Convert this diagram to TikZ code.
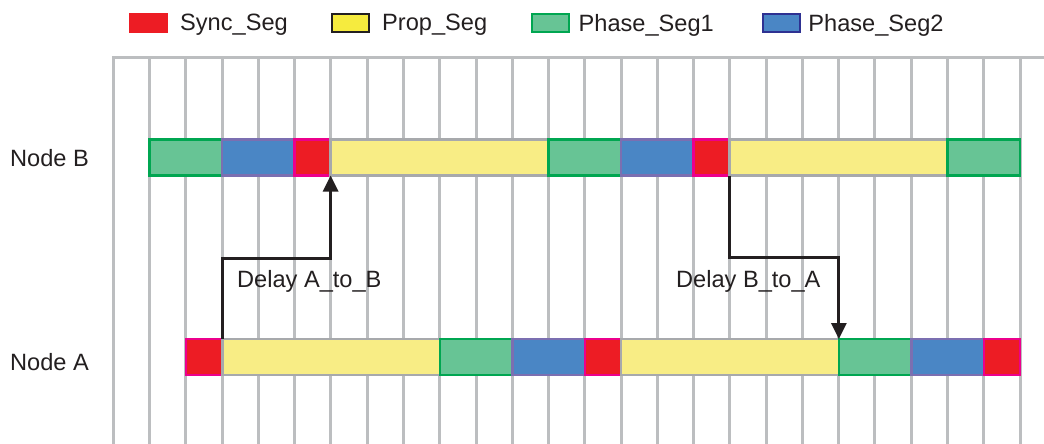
\documentclass[tikz,border=0pt]{standalone}
\usepackage{fontspec}
\setmainfont{Liberation Sans}
\usetikzlibrary{arrows.meta, positioning}
\definecolor{SyncRed}{HTML}{ED1C24}
\definecolor{SyncEdge}{HTML}{EC008C}
\definecolor{PropYellow}{HTML}{F8ED85}
\definecolor{PropKey}{HTML}{F6EB3E}
\definecolor{PropEdge}{HTML}{A7A9AC}
\definecolor{PhaseGreen}{HTML}{67C495}
\definecolor{PhaseEdge}{HTML}{00A651}
\definecolor{PhaseBlue}{HTML}{4A86C5}
\definecolor{PhaseBlueEdge}{HTML}{7B6FB1}
\definecolor{KeyBlueEdge}{HTML}{2E3192}
\definecolor{GridGray}{HTML}{BCBEC0}
\definecolor{InkBlack}{HTML}{231F20}

\begin{document}
\begin{tikzpicture}[x=1pt, y=-1pt, >={Triangle[width=15pt, length=16pt]},
  every node/.style={font=\fontsize{23.6}{28}\selectfont, text=InkBlack},
  seg/.style={draw, line width=2.5pt, minimum height=36pt, inner sep=0pt, outer sep=0pt},
  cells/.style={minimum width=#1*36.27pt},
  sync/.style={seg, fill=SyncRed, draw=SyncEdge, cells=1},
  prop/.style={seg, fill=PropYellow, draw=PropEdge, cells=6},
  phaseone/.style={seg, fill=PhaseGreen, draw=PhaseEdge, cells=2},
  phasetwo/.style={seg, fill=PhaseBlue, draw=PhaseBlueEdge, cells=2},
  key/.style={minimum width=37pt, minimum height=18pt, inner sep=0pt, outer sep=0pt, line width=2pt},
  keytext/.style={inner sep=0pt, yshift=-2pt},
  delay/.style={->, line width=3pt, draw=InkBlack}]
  \useasboundingbox (0,0) rectangle (1044,444);
  % Time quanta grid: 26 lines, 36.27px apart
  \foreach \i in {0,...,25}
    \draw[GridGray, line width=3pt] (113.3+\i*36.27,58) -- (113.3+\i*36.27,444);
  \draw[GridGray, line width=3pt] (111.8,58) -- (1044,58);
  % Legend
  \node[key, fill=SyncRed, draw=SyncRed] (keysync) at (148.5,23) {};
  \node[keytext, right=13pt of keysync] (txtsync) {Sync\_Seg};
  \node[key, fill=PropKey, draw=InkBlack] (keyprop) at (350.5,23) {};
  \node[keytext, right=13pt of keyprop] (txtprop) {Prop\_Seg};
  \node[key, fill=PhaseGreen, draw=PhaseEdge] (keyphaseone) at (550,23) {};
  \node[keytext, right=10pt of keyphaseone] (txtphaseone) {Phase\_Seg1};
  \node[key, fill=PhaseBlue, draw=KeyBlueEdge] (keyphasetwo) at (781.7,23) {};
  \node[keytext, right=8pt of keyphasetwo] (txtphasetwo) {Phase\_Seg2};
  % Node B bit timing
  \node[phaseone, anchor=west] (b1) at (149.3,157.5) {};
  \node[phasetwo, right=0pt of b1] (b2) {};
  \node[sync, right=0pt of b2] (b3) {};
  \node[prop, right=0pt of b3] (b4) {};
  \node[phaseone, right=0pt of b4] (b5) {};
  \node[phasetwo, right=0pt of b5] (b6) {};
  \node[sync, right=0pt of b6] (b7) {};
  \node[prop, right=0pt of b7] (b8) {};
  \node[phaseone, right=0pt of b8] (b9) {};
  % Node A bit timing, one quantum later
  \node[sync, anchor=west] (a1) at (186,357) {};
  \node[prop, right=0pt of a1] (a2) {};
  \node[phaseone, right=0pt of a2] (a3) {};
  \node[phasetwo, right=0pt of a3] (a4) {};
  \node[sync, right=0pt of a4] (a5) {};
  \node[prop, right=0pt of a5] (a6) {};
  \node[phaseone, right=0pt of a6] (a7) {};
  \node[phasetwo, right=0pt of a7] (a8) {};
  \node[sync, right=0pt of a8] (a9) {};
  % Row labels
  \node[anchor=base west, inner sep=0pt] (nodeb) at (10,166.7) {Node B};
  \node[anchor=base west, inner sep=0pt] (nodea) at (10,370) {Node A};
  % Delays
  \draw[delay] (a2.north west) -- ++(0,-81) -| (b3.south east);
  \draw[delay] (b7.south east) -- ++(0,82) -| (a6.north east);
  \node[anchor=base west, inner sep=0pt] (delayab) at (237,287) {Delay A\_to\_B};
  \node[anchor=base west, inner sep=0pt] (delayba) at (676,287) {Delay B\_to\_A};
\end{tikzpicture}
\end{document}
